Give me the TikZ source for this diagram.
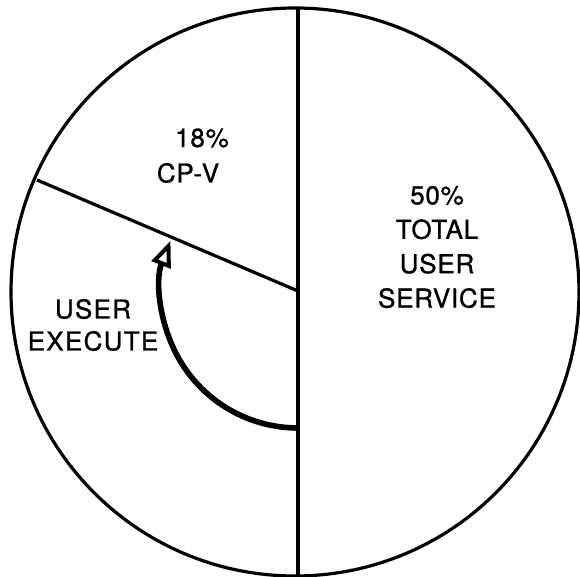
\documentclass[tikz,border=0pt]{standalone}
\usepackage{fontspec}
\setmainfont{TeX Gyre Heros}[FakeBold=1, LetterSpace=3]
\usetikzlibrary{arrows.meta, positioning, calc}
\tikzset{
    pie rim/.style={line width=1.6pt},
    pie cut/.style={line width=1.6pt},
    slice text/.style={font=\fontsize{13}{17.2}\selectfont, align=center, inner sep=0pt},
    turn/.style={line width=2.8pt, -{Triangle[open, fill=white, line width=2pt, length=13pt, width=10pt]}},
}

\begin{document}
\begin{tikzpicture}[x=0.5pt, y=-0.5pt]
    \useasboundingbox (0,0) rectangle (580,577);

    \coordinate (c) at (295,292);
    \draw[pie rim] (c) circle[radius=142pt];

    \coordinate (hub) at (298,291);
    \coordinate (top) at (298,8);
    \coordinate (bottom) at (298,576);
    \coordinate (rim) at (37,180);
    \coordinate (turn start) at (298,428);

    \draw[pie cut] (top) -- (bottom);
    \draw[pie cut] (hub) -- (rim);

    \draw[turn] (turn start) arc[start angle=270, end angle=158.5, radius=68.5pt];

    \node[slice text] (cpv pct) at (202,138) {18\%};
    \node[slice text] (cpv) at (188,173) {CP-V};
    \node[slice text] (service) at (437,247) {50\%\\TOTAL\\USER\\SERVICE};
    \node[slice text, font=\fontsize{13}{16}\selectfont\addfontfeature{LetterSpace=5}] (execute) at (93,325) {USER\\EXECUTE};
\end{tikzpicture}
\end{document}
